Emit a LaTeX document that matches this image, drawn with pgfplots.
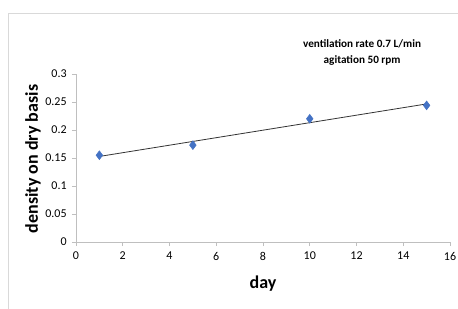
\documentclass[border=0pt]{standalone}
\usepackage{fontspec}
\setmainfont{Carlito}
\usepackage{pgfplots}
\usepackage{pgfplotstable}
\pgfplotsset{compat=1.18}
\definecolor{mkblue}{HTML}{4472C4}
\definecolor{axgray}{HTML}{BFBFBF}
\definecolor{framegray}{HTML}{D9D9D9}
\pgfplotstableread{
day density
1 0.155
5 0.173
10 0.220
15 0.244
}\datatable
\begin{document}
\begin{tikzpicture}[x=0.75pt,y=0.75pt]
\useasboundingbox (0,0) rectangle (458,308);
\draw[framegray,line width=0.6pt] (8,-2) -- (8,295) -- (460,295);
\begin{axis}[
  at={(76pt*0.75,66pt*0.75)}, anchor=south west,
  scale only axis,
  width=280.5pt, height=126pt,
  xmin=0, xmax=16, ymin=0, ymax=0.3,
  axis lines=left,
  axis line style={-, axgray, line width=0.6pt},
  xtick={0,2,...,16},
  ytick={0,0.05,...,0.3},
  tick style={axgray, line width=0.6pt},
  tick align=outside,
  major tick length=3pt,
  /pgf/number format/assume math mode=true,
  /pgf/number format/fixed,
  /pgf/number format/precision=2,
  ticklabel style={font=\fontsize{9}{10}\selectfont, text=black},
  xticklabel style={yshift=-1pt},
  yticklabel style={xshift=-0.5pt},
  xlabel={\textbf{day}},
  ylabel={\textbf{density on dry basis}},
  label style={font=\fontsize{13.5}{15}\selectfont},
  xlabel style={at={(axis description cs:0.5,-0.25)}, anchor=center},
  ylabel style={at={(axis description cs:-0.115,0.494)}, anchor=center, rotate=0},
  clip=false,
]
\addplot[black!80, line width=0.6pt, no marks]
  table[x=day, y={create col/linear regression={y=density}}] {\datatable};
\addplot[only marks, mark=diamond*, mark size=3.3pt, mkblue, mark options={fill=mkblue, draw=mkblue}]
  table[x=day, y=density] {\datatable};
\node[align=center, font=\fontsize{8.4}{12}\selectfont\bfseries] at (axis description cs:0.765,1.13)
  {ventilation rate 0.7 L/min\\agitation 50 rpm};
\end{axis}
\end{tikzpicture}
\end{document}
